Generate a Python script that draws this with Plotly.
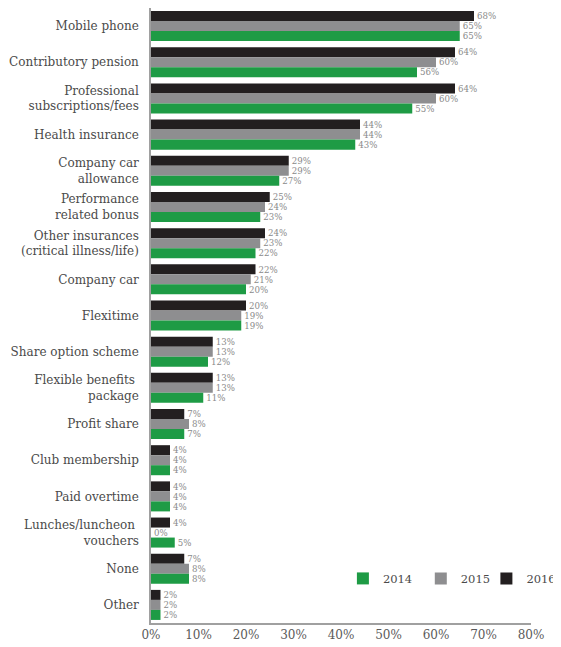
import plotly.graph_objects as go

categories = [
    "Mobile phone",
    "Contributory pension",
    "Professional<br>subscriptions/fees",
    "Health insurance",
    "Company car<br>allowance",
    "Performance<br>related bonus",
    "Other insurances<br>(critical illness/life)",
    "Company car",
    "Flexitime",
    "Share option scheme",
    "Flexible benefits <br>package",
    "Profit share",
    "Club membership",
    "Paid overtime",
    "Lunches/luncheon <br>vouchers",
    "None",
    "Other",
]
v2016 = [68, 64, 64, 44, 29, 25, 24, 22, 20, 13, 13, 7, 4, 4, 4, 7, 2]
v2015 = [65, 60, 60, 44, 29, 24, 23, 21, 19, 13, 13, 8, 4, 4, 0, 8, 2]
v2014 = [65, 56, 55, 43, 27, 23, 22, 20, 19, 12, 11, 7, 4, 4, 5, 8, 2]
x_ticks = [0, 10, 20, 30, 40, 50, 60, 70, 80]
x_tick_text = ["0%", "10%", "20%", "30%", "40%", "50%", "60%", "70%", "80%"]

FONT = "DejaVu Serif"
series = [
    ("2016", v2016, "#231f20", "legend3"),
    ("2015", v2015, "#8e8e90", "legend2"),
    ("2014", v2014, "#1e9b45", "legend"),
]

fig = go.Figure()
for name, vals, color, leg in series:
    fig.add_trace(go.Bar(
        y=categories, x=vals, name=name, orientation="h",
        marker=dict(color=color, line=dict(width=0)),
        text=[f"{v}%" for v in vals], textposition="outside",
        textfont=dict(family=FONT, size=9.5, color="#8a8a8a"),
        cliponaxis=False, legend=leg,
    ))

leg_common = dict(orientation="h", y=0.0725, yanchor="middle",
                  font=dict(family=FONT, size=11.5, color="#4a4a4a"),
                  bgcolor="rgba(0,0,0,0)", itemwidth=30)

# page body has an 8px margin, so the figure is sized to fit the window
fig.update_layout(
    width=553, height=639,
    margin=dict(l=143, r=30, t=0, b=24, autoexpand=False),
    barmode="group", bargap=0.17, bargroupgap=0,
    plot_bgcolor="white", paper_bgcolor="white",
    font=dict(family=FONT, size=12, color="#4a4a4a"),
    showlegend=True,
    legend=dict(x=0.505, xanchor="left", **leg_common),
    legend2=dict(x=0.71, xanchor="left", **leg_common),
    legend3=dict(x=1.08, xanchor="right", **leg_common),
    xaxis=dict(range=[0, 80], tickvals=x_ticks, ticktext=x_tick_text,
               showgrid=False, zeroline=False, showline=True, automargin=False,
               linecolor="#a0a0a0", linewidth=1.5,
               tickfont=dict(family=FONT, size=12, color="#5a5a5a")),
    yaxis=dict(autorange="reversed", showgrid=False, showline=True, automargin=False,
               linecolor="#a0a0a0", linewidth=1.5, ticks="",
               ticklabelstandoff=8,
               tickfont=dict(family=FONT, size=12, color="#4a4a4a")),
)

fig.write_html("out.html")
